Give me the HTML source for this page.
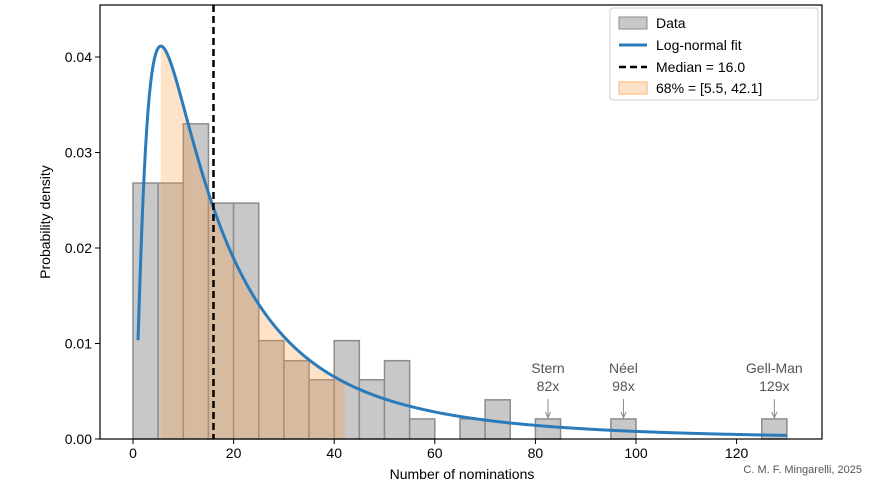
<!DOCTYPE html>
<html><head><meta charset="utf-8"><style>
body{margin:0;background:#fff;font-family:"Liberation Sans","DejaVu Sans",sans-serif}
svg text{font-family:"Liberation Sans","DejaVu Sans",sans-serif}
</style></head><body>
<svg id="chart" width="879" height="491" xmlns="http://www.w3.org/2000/svg"></svg>
<script>
const binStarts=[0,5,10,15,20,25,30,35,40,45,50,55,65,70,80,95,125];
const binHeights=[0.0268,0.0268,0.0330,0.0247,0.0247,0.0103,0.0082,0.0062,0.0103,0.0062,0.0082,0.0021,0.0021,0.0041,0.0021,0.0021,0.0021];
const binWidth=5;
const fitMedian=16.0, fitSigma=1.03;
const ciLow=5.5, ciHigh=42.1;
const xTicks=[0,20,40,60,80,100,120];
const yTicks=[0,0.01,0.02,0.03,0.04];
const yTickLabels=["0.00","0.01","0.02","0.03","0.04"];
const annotations=[{name:"Stern",val:82,x:82.5},{name:"Néel",val:98,x:97.5},{name:"Gell-Man",val:129,x:127.5}];
const legendLabels=["Data","Log-normal fit","Median = 16.0","68% = [5.5, 42.1]"];

const svg=document.getElementById('chart');const NS="http://www.w3.org/2000/svg";
const L=100,R=822,T=5,B=439;
const X=v=>133+v*5.03, Y=v=>B-v*9550;
function el(t,a,p){const e=document.createElementNS(NS,t);for(const k in a)e.setAttribute(k,a[k]);(p||svg).appendChild(e);return e;}
function pdf(x){const mu=Math.log(fitMedian);return Math.exp(-Math.pow(Math.log(x)-mu,2)/(2*fitSigma*fitSigma))/(x*fitSigma*Math.sqrt(2*Math.PI));}
binStarts.forEach((s,i)=>{const r=el('rect',{x:X(s),y:Y(binHeights[i]),width:X(s+binWidth)-X(s),height:B-Y(binHeights[i]),fill:'#c8c8c8',stroke:'#8c8c8c','stroke-width':1.5});

});
let d=`M${X(ciLow)},${B}`;for(let x=ciLow;x<=ciHigh;x+=0.25)d+=` L${X(x)},${Y(pdf(x))}`;d+=` L${X(ciHigh)},${Y(pdf(ciHigh))} L${X(ciHigh)},${B} Z`;
const f=el('path',{d,fill:'#ff9a3c','fill-opacity':0.28});


let c='';for(let x=1;x<=130;x+=0.25)c+=(c?' L':'M')+X(x)+','+Y(pdf(x));
const cv=el('path',{d:c,fill:'none',stroke:'#2b7bba','stroke-width':3});


const m=el('line',{x1:X(fitMedian),x2:X(fitMedian),y1:T,y2:B,stroke:'#000','stroke-width':2.5,'stroke-dasharray':'7,4'});


const fr=el('rect',{x:L,y:T,width:R-L,height:B-T,fill:'none',stroke:'#000','stroke-width':1.2});


xTicks.forEach(v=>{el('line',{x1:X(v),x2:X(v),y1:B,y2:B+5,stroke:'#000'});const t=el('text',{x:X(v),y:B+19,'text-anchor':'middle','font-size':14});t.textContent=v;

});
yTicks.forEach((v,i)=>{el('line',{x1:L-5,x2:L,y1:Y(v),y2:Y(v),stroke:'#000'});const t=el('text',{x:L-8,y:Y(v)+5,'text-anchor':'end','font-size':14});t.textContent=yTickLabels[i];

});
let t=el('text',{x:462,y:479,'text-anchor':'middle','font-size':14});t.textContent='Number of nominations';


t=el('text',{x:50,y:222,'text-anchor':'middle','font-size':14,transform:'rotate(-90 50 222)'});t.textContent='Probability density';


t=el('text',{x:862,y:473,'text-anchor':'end','font-size':11,fill:'#555'});t.textContent='C. M. F. Mingarelli, 2025';


annotations.forEach(a=>{const g=el('g',{});
const x=X(a.x);el('text',{x,y:373,'text-anchor':'middle','font-size':14,fill:'#555'},g).textContent=a.name;
el('text',{x,y:391,'text-anchor':'middle','font-size':14,fill:'#555'},g).textContent=a.val+'x';
el('line',{x1:x,x2:x,y1:399,y2:416,stroke:'#888'},g);el('path',{d:`M${x-2.5},${412} L${x},${418} L${x+2.5},${412}`,fill:'none',stroke:'#888'},g);});
const lg=el('g',{});
el('rect',{x:610,y:8,width:208,height:92,rx:3,fill:'#fff','fill-opacity':0.85,stroke:'#ccc'},lg);
const ly=[23,45,67,88];
el('rect',{x:619,y:ly[0]-6,width:28,height:12,fill:'#c8c8c8',stroke:'#8c8c8c'},lg);
el('line',{x1:619,x2:647,y1:ly[1],y2:ly[1],stroke:'#2b7bba','stroke-width':3},lg);
el('line',{x1:619,x2:647,y1:ly[2],y2:ly[2],stroke:'#000','stroke-width':2.5,'stroke-dasharray':'7,4'},lg);
el('rect',{x:619,y:ly[3]-6,width:28,height:12,fill:'#ff9a3c','fill-opacity':0.28,stroke:'#ffb070'},lg);
legendLabels.forEach((s,i)=>{const e=el('text',{x:656,y:ly[i]+5,'font-size':14},lg);e.textContent=s;

});
</script></body></html>
